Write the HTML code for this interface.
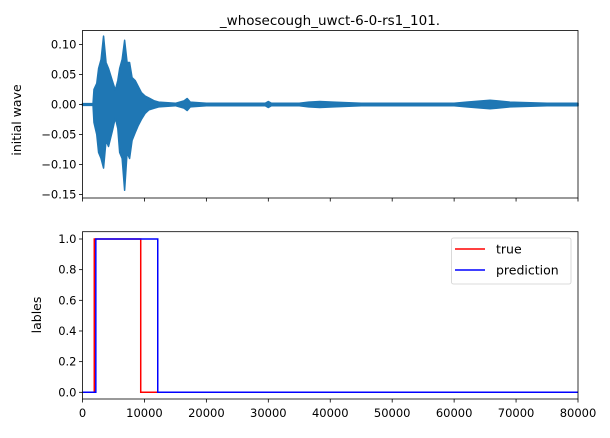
<!DOCTYPE html>
<html><head><meta charset="utf-8"><style>
body{margin:0;background:#fff;}
svg text{font-family:"DejaVu Sans","Liberation Sans",sans-serif;fill:#000;}
</style></head><body>
<svg id="c" width="610" height="433" xmlns="http://www.w3.org/2000/svg"></svg>
<script>
const waveX   = [0,1700,1850,2300,2600,3000,3400,3800,4200,4800,5300,5700,6000,6400,6800,7200,7600,8000,8500,9000,9500,10100,10700,11600,12300,15000,16400,16900,17400,20000,29500,30000,30500,35000,36500,38300,40500,45000,60000,62000,64500,65800,67000,69000,75000,80000];
const waveMax = [0.0015,0.0015,0.025,0.035,0.06,0.075,0.114,0.07,0.06,0.04,0.024,0.04,0.06,0.075,0.107,0.07,0.07,0.045,0.04,0.03,0.02,0.014,0.011,0.006,0.004,0.002,0.006,0.01,0.004,0.002,0.002,0.005,0.002,0.002,0.004,0.005,0.004,0.002,0.002,0.004,0.006,0.007,0.006,0.004,0.002,0.002];
const waveMin = [-0.0015,-0.0015,-0.03,-0.05,-0.08,-0.09,-0.106,-0.06,-0.07,-0.045,-0.022,-0.04,-0.08,-0.09,-0.143,-0.08,-0.09,-0.06,-0.047,-0.035,-0.025,-0.015,-0.009,-0.006,-0.004,-0.002,-0.006,-0.01,-0.004,-0.002,-0.002,-0.005,-0.002,-0.002,-0.004,-0.005,-0.004,-0.002,-0.002,-0.004,-0.006,-0.007,-0.006,-0.004,-0.002,-0.002];
const trueX = [0,1900,1900,9400,9400,80000];
const trueY = [0,0,1,1,0,0];
const predX = [0,2150,2150,12150,12150,80000];
const predY = [0,0,1,1,0,0];
const xTicks = [0,10000,20000,30000,40000,50000,60000,70000,80000];
const yTicksTop = [0.10,0.05,0.00,-0.05,-0.10,-0.15];
const yTicksBot = [0.0,0.2,0.4,0.6,0.8,1.0];

const NS="http://www.w3.org/2000/svg";
const svg=document.getElementById('c');
function mk(t,a,p){const e=document.createElementNS(NS,t);for(const k in a)e.setAttribute(k,a[k]);(p||svg).appendChild(e);return e;}
const L=82.5,R=578;
const sx=v=>L+(v-0)/(80000)*(R-L);
const syT=v=>104.5-v*600;
const syB=v=>392.3-v*(392.3-239);
function fmt(v,d){return (v<0?'\u2212':'')+Math.abs(v).toFixed(d);}

let t=mk('text',{x:330,y:25,'font-size':13.5,'text-anchor':'middle'});
t.textContent='_whosecough_uwct-6-0-rs1_101.';



let up=waveX.map((x,i)=>sx(x).toFixed(2)+','+syT(waveMax[i]).toFixed(2));
let dn=waveX.map((x,i)=>sx(x).toFixed(2)+','+syT(waveMin[i]).toFixed(2)).reverse();
let w=mk('polygon',{points:up.concat(dn).join(' '),fill:'#1f77b4',stroke:'#1f77b4','stroke-width':1.5,'stroke-linejoin':'round'});


let f1=mk('rect',{x:L,y:30.5,width:R-L,height:167.5,fill:'none',stroke:'#000','stroke-width':0.8});


yTicksTop.forEach(v=>{const y=syT(v);mk('line',{x1:L-3.5,x2:L,y1:y,y2:y,stroke:'#000','stroke-width':0.8});
 const e=mk('text',{x:L-6,y:y+4,'font-size':11.5,'text-anchor':'end'});e.textContent=fmt(v,2);
 
 });
xTicks.forEach(v=>{const x=sx(v);mk('line',{x1:x,x2:x,y1:198,y2:201.5,stroke:'#000','stroke-width':0.8});});
let yl=mk('text',{x:21,y:120,'font-size':12.5,'text-anchor':'middle',transform:'rotate(-90 21 120)'});yl.textContent='initial wave';



function step(xs,ys,col,name){const p=mk('polyline',{points:xs.map((x,i)=>sx(x).toFixed(2)+','+syB(ys[i]).toFixed(2)).join(' '),fill:'none',stroke:col,'stroke-width':1.5});
 
 }
step(trueX,trueY,'#ff0000','true-series');
step(predX,predY,'#0000ff','prediction-series');
let f2=mk('rect',{x:L,y:231.7,width:R-L,height:167.3,fill:'none',stroke:'#000','stroke-width':0.8});


yTicksBot.forEach(v=>{const y=syB(v);mk('line',{x1:L-3.5,x2:L,y1:y,y2:y,stroke:'#000','stroke-width':0.8});
 const e=mk('text',{x:L-6,y:y+4,'font-size':11.5,'text-anchor':'end'});e.textContent=v.toFixed(1);
 
 });
xTicks.forEach(v=>{const x=sx(v);mk('line',{x1:x,x2:x,y1:399,y2:402.5,stroke:'#000','stroke-width':0.8});
 const e=mk('text',{x:x,y:417,'font-size':11.5,'text-anchor':'middle'});e.textContent=String(v);
 
 });
let yl2=mk('text',{x:41,y:315,'font-size':12.5,'text-anchor':'middle',transform:'rotate(-90 41 315)'});yl2.textContent='lables';



const lg=mk('g',{});


mk('rect',{x:451.5,y:238,width:119.5,height:46,rx:2,fill:'#fff','fill-opacity':0.8,stroke:'#d0d0d0','stroke-width':0.8},lg);
[['true','#ff0000',249],['prediction','#0000ff',270]].forEach(([n,c,y])=>{
 const g=mk('g',{},lg);
 
 
 mk('line',{x1:455,x2:485,y1:y,y2:y,stroke:c,'stroke-width':1.5},g);
 const e=mk('text',{x:496,y:y+4.5,'font-size':12.5},g);e.textContent=n;});
</script>
</body></html>
